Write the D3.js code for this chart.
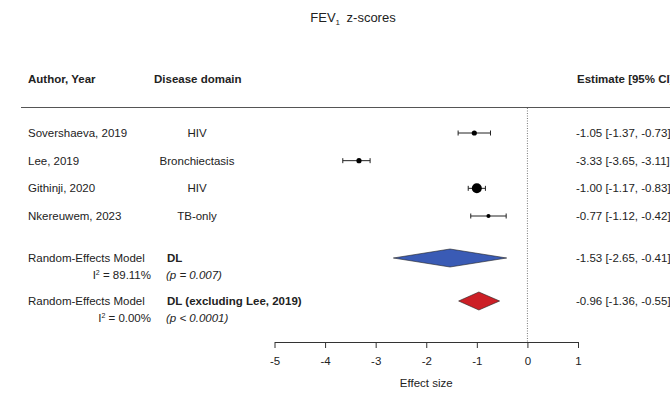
<!DOCTYPE html>
<html><head><meta charset="utf-8">
<script src="https://cdn.jsdelivr.net/npm/d3@7"></script>
<style>body{margin:0;background:#fff}svg{display:block;font-family:"Liberation Sans",Arial,sans-serif}</style>
</head><body><svg id="c" width="670" height="395"></svg>
<script>
const studies = ["Sovershaeva, 2019","Lee, 2019","Githinji, 2020","Nkereuwem, 2023"];
const domains = ["HIV","Bronchiectasis","HIV","TB-only"];
const estimates = [-1.05,-3.33,-1.00,-0.77];
const lower = [-1.37,-3.65,-1.17,-1.12];
const upper = [-0.73,-3.11,-0.83,-0.42];
const weights = [1.6,1.6,6,1];
const modelLabels = ["DL","DL (excluding Lee, 2019)"];
const modelI2 = ["89.11%","0.00%"];
const modelP = ["(p = 0.007)","(p < 0.0001)"];
const modelEst = [-1.53,-0.96];
const modelLow = [-2.65,-1.36];
const modelHigh = [-0.41,-0.55];
const modelColors = ["#3a5bb5","#cc1f26"];
const ticks = [-5,-4,-3,-2,-1,0,1];

const locale = d3.formatLocale({decimal:".",thousands:",",grouping:[3],currency:["",""],minus:"-"});
const fmt = locale.format(".2f");
const fmtTick = locale.format("d");

const svg = d3.select("#c");
const x = d3.scaleLinear().domain([-5,1]).range([274.5,578]);
const rowY = d3.scalePoint().domain(studies).range([133,216]);
const modelY = d3.scalePoint().domain(modelLabels).range([258,301]);
const size = d3.scaleSqrt().domain([0,6]).range([0,5]);
const fs = 11.5;

// title
const t = svg.append("text").attr("x",353).attr("y",22).attr("text-anchor","middle").attr("font-size",13).attr("fill","#222");
t.append("tspan").text("FEV");
t.append("tspan").attr("font-size",8).attr("dy",3).text("1");
t.append("tspan").attr("dy",-3).text("\u2002z-scores");

// headers
svg.append("text").attr("x",28).attr("y",83).attr("font-size",fs).attr("font-weight","bold").attr("fill","#222").text("Author, Year");
svg.append("text").attr("x",154).attr("y",83).attr("font-size",fs).attr("font-weight","bold").attr("fill","#222").text("Disease domain");
svg.append("text").attr("x",577).attr("y",83).attr("font-size",fs).attr("font-weight","bold").attr("fill","#222").text("Estimate [95% CI]");
svg.append("line").attr("x1",21).attr("x2",670).attr("y1",107.5).attr("y2",107.5).attr("stroke","#555").attr("stroke-width",1.2);

// reference line
svg.append("line").attr("x1",x(0)).attr("x2",x(0)).attr("y1",108).attr("y2",342).attr("stroke","#777").attr("stroke-dasharray","1,1.5");

// study rows
const g = svg.append("g").selectAll("g").data(studies).join("g").attr("transform",d=>`translate(0,${rowY(d)})`);
g.append("text").attr("x",28).attr("dy","0.35em").attr("font-size",fs).attr("fill","#222").text(d=>d);
g.append("text").attr("x",197).attr("dy","0.35em").attr("text-anchor","middle").attr("font-size",fs).attr("fill","#222").text((d,i)=>domains[i]);
g.append("text").attr("x",576).attr("dy","0.35em").attr("font-size",fs).attr("fill","#222")
  .text((d,i)=>`${fmt(estimates[i])} [${fmt(lower[i])}, ${fmt(upper[i])}]`);
g.append("line").attr("x1",(d,i)=>x(lower[i])).attr("x2",(d,i)=>x(upper[i])).attr("stroke","#222").attr("stroke-width",1);
g.append("line").attr("x1",(d,i)=>x(lower[i])).attr("x2",(d,i)=>x(lower[i])).attr("y1",-2.5).attr("y2",2.5).attr("stroke","#222");
g.append("line").attr("x1",(d,i)=>x(upper[i])).attr("x2",(d,i)=>x(upper[i])).attr("y1",-2.5).attr("y2",2.5).attr("stroke","#222");
g.append("circle").attr("cx",(d,i)=>x(estimates[i])).attr("r",(d,i)=>size(weights[i])).attr("fill","#000");

// model rows
const m = svg.append("g").selectAll("g").data(modelLabels).join("g").attr("transform",d=>`translate(0,${modelY(d)})`);
m.append("text").attr("x",28).attr("dy","0.35em").attr("font-size",fs).attr("fill","#222").text("Random-Effects Model");
const i2 = m.append("text").attr("x",151).attr("y",17).attr("dy","0.35em").attr("text-anchor","end").attr("font-size",fs).attr("fill","#222");
i2.append("tspan").text("I");
i2.append("tspan").attr("font-size",7).attr("dy",-4).text("2");
i2.append("tspan").attr("dy",4).text((d,i)=>" = "+modelI2[i]);
m.append("text").attr("x",167).attr("dy","0.35em").attr("font-size",fs).attr("font-weight","bold").attr("fill","#222").text(d=>d);
m.append("text").attr("x",166).attr("y",17).attr("dy","0.35em").attr("font-size",fs).attr("font-style","italic").attr("fill","#222").text((d,i)=>modelP[i]);
m.append("text").attr("x",576).attr("dy","0.35em").attr("font-size",fs).attr("fill","#222")
  .text((d,i)=>`${fmt(modelEst[i])} [${fmt(modelLow[i])}, ${fmt(modelHigh[i])}]`);
m.append("path").attr("d",(d,i)=>`M${x(modelLow[i])},0L${x(modelEst[i])},-9L${x(modelHigh[i])},0L${x(modelEst[i])},9Z`)
  .attr("fill",(d,i)=>modelColors[i]).attr("stroke","#222").attr("stroke-width",0.6);

// axis
const ax = svg.append("g").attr("transform","translate(0,342)")
  .call(d3.axisBottom(x).tickValues(ticks).tickFormat(fmtTick).tickSize(6).tickSizeOuter(0).tickPadding(9));
ax.select(".domain").attr("stroke","#333");
ax.selectAll(".tick line").attr("stroke","#333");
ax.selectAll("text").attr("font-size",fs).attr("fill","#222").attr("font-family","Liberation Sans, Arial, sans-serif");
svg.append("text").attr("x",x(-2)).attr("y",387).attr("text-anchor","middle").attr("font-size",fs).attr("fill","#222").text("Effect size");
</script></body></html>
